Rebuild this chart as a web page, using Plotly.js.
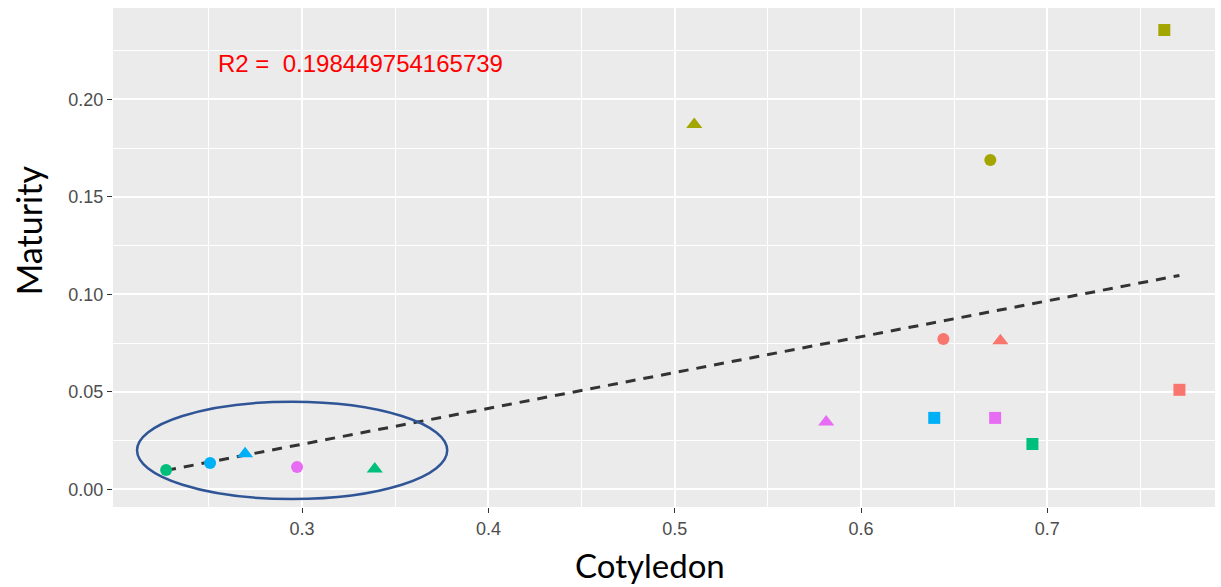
<!DOCTYPE html>
<html>
<head>
<meta charset="utf-8">
<script src="https://cdn.plot.ly/plotly-3.0.1.min.js"></script>
<style>html,body{margin:0;padding:0;background:#fff;}#chart{width:1221px;height:587px;}</style>
</head>
<body>
<div id="chart"></div>
<script>
// Data
const cotyledon = [0.227, 0.2506, 0.2694, 0.2973, 0.339, 0.5105, 0.6694, 0.7628, 0.6442, 0.6748, 0.7709, 0.5813, 0.6393, 0.672, 0.692];
const maturity  = [0.0099, 0.0135, 0.0182, 0.0114, 0.0104, 0.187, 0.1689, 0.2355, 0.0771, 0.0761, 0.051, 0.0345, 0.0366, 0.0366, 0.0232];
const groups    = ["C", "D", "D", "E", "C", "B", "B", "B", "A", "A", "A", "E", "D", "E", "C"];
const shapes    = ["circle", "circle", "triangle-up", "circle", "triangle-up", "triangle-up", "circle", "square", "circle", "triangle-up", "square", "triangle-up", "square", "square", "square"];
const groupColors = {A: "#F8766D", B: "#A3A500", C: "#00BF7D", D: "#00B0F6", E: "#E76BF3"};
const xTicks = [0.3, 0.4, 0.5, 0.6, 0.7];
const yTicks = [0.00, 0.05, 0.10, 0.15, 0.20];
const r2Label = "R2 =  0.198449754165739";

// Least squares fit
const n = cotyledon.length;
const mx = cotyledon.reduce((a, b) => a + b, 0) / n;
const my = maturity.reduce((a, b) => a + b, 0) / n;
let sxy = 0, sxx = 0;
for (let i = 0; i < n; i++) { sxy += (cotyledon[i] - mx) * (maturity[i] - my); sxx += (cotyledon[i] - mx) ** 2; }
const slope = sxy / sxx, intercept = my - slope * mx;
const xmin = Math.min(...cotyledon), xmax = Math.max(...cotyledon);
const fitX = [xmin, xmax];
const fitY = fitX.map(x => intercept + slope * x);

const traces = [{
  x: fitX, y: fitY, mode: "lines", type: "scatter",
  line: {color: "#333333", width: 3, dash: "10px,8px"},
  hoverinfo: "skip", showlegend: false
}, {
  x: cotyledon, y: maturity, mode: "markers", type: "scatter",
  marker: {
    color: groups.map(g => groupColors[g]),
    symbol: shapes,
    size: shapes.map(s => s === "triangle-up" ? 14 : 12),
    opacity: 1,
    line: {width: 0}
  },
  showlegend: false
}];

const layout = {
  width: 1221, height: 587,
  margin: {l: 113, r: 6, t: 8, b: 80},
  paper_bgcolor: "#FFFFFF",
  plot_bgcolor: "#EBEBEB",
  showlegend: false,
  xaxis: {
    range: [0.1985, 0.790],
    tickmode: "array", tickvals: xTicks, ticktext: xTicks.map(v => v.toFixed(1)),
    ticks: "outside", ticklen: 5, tickwidth: 1, tickcolor: "#333333",
    tickfont: {family: "Liberation Sans Narrow, Arial Narrow, Liberation Sans, Arial", size: 18, color: "#4D4D4D"},
    showgrid: true, gridcolor: "#FFFFFF", gridwidth: 2,
    minor: {tickmode: "array", tickvals: [0.25, 0.35, 0.45, 0.55, 0.65, 0.75], showgrid: true, gridcolor: "#FFFFFF", gridwidth: 1},
    zeroline: false, showline: false
  },
  yaxis: {
    range: [-0.0091, 0.2468],
    tickmode: "array", tickvals: yTicks, ticktext: yTicks.map(v => v.toFixed(2)),
    ticks: "outside", ticklen: 5, tickwidth: 1, tickcolor: "#333333",
    tickfont: {family: "Liberation Sans Narrow, Arial Narrow, Liberation Sans, Arial", size: 18, color: "#4D4D4D"},
    showgrid: true, gridcolor: "#FFFFFF", gridwidth: 2,
    minor: {tickmode: "array", tickvals: [0.025, 0.075, 0.125, 0.175, 0.225], showgrid: true, gridcolor: "#FFFFFF", gridwidth: 1},
    zeroline: false, showline: false
  },
  shapes: [{
    type: "circle", xref: "x", yref: "y",
    x0: 0.2114, x1: 0.3779, y0: -0.005, y1: 0.0449,
    line: {color: "#2F5597", width: 2.5},
    fillcolor: "rgba(0,0,0,0)"
  }],
  annotations: [{
    text: r2Label, xref: "x", yref: "y", x: 0.2538, y: 0.2181,
    xanchor: "left", yanchor: "middle", showarrow: false,
    font: {family: "Liberation Sans Narrow, Arial Narrow, Liberation Sans, Arial", size: 24, color: "#FF0000"}
  }, {
    text: "Maturity", xref: "paper", yref: "paper", x: -0.077, y: 0.555,
    xanchor: "center", yanchor: "middle", textangle: -90, showarrow: false,
    font: {family: "Lato, Liberation Sans, Arial", size: 34, color: "#000000"}
  }, {
    text: "Cotyledon", xref: "paper", yref: "paper", x: 0.487, y: -0.117,
    xanchor: "center", yanchor: "middle", showarrow: false,
    font: {family: "Lato, Liberation Sans, Arial", size: 33, color: "#000000"}
  }]
};

Plotly.newPlot("chart", traces, layout, {displayModeBar: false, staticPlot: true});
</script>
</body>
</html>
